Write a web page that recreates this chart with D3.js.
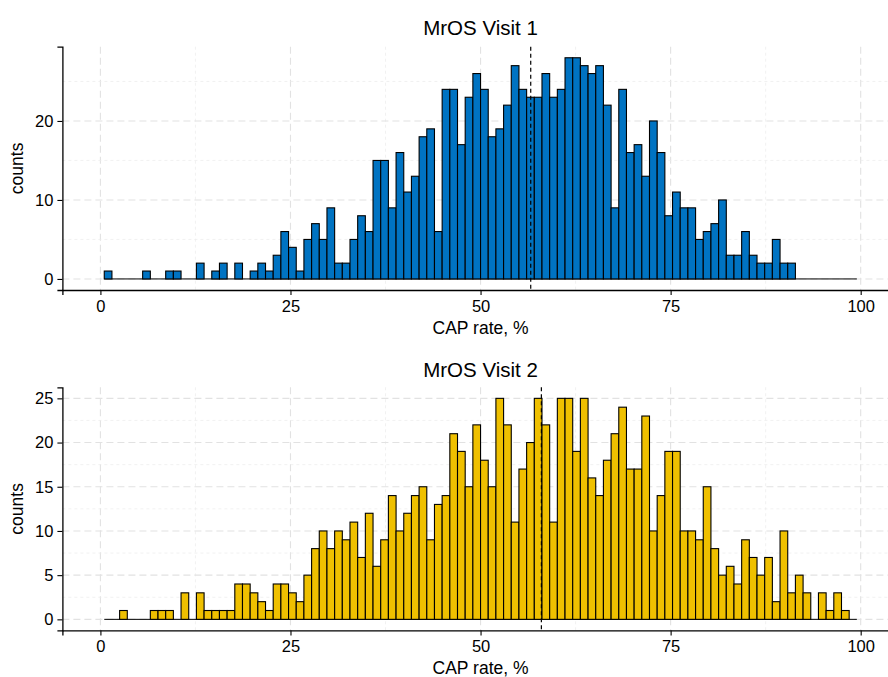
<!DOCTYPE html>
<html><head><meta charset="utf-8">
<script src="https://cdn.jsdelivr.net/npm/d3@7"></script>
<style>
body{margin:0;background:#fff}
text{font-family:"Liberation Sans",Arial,Helvetica,sans-serif;fill:#000}
</style>
</head><body>
<svg id="chart" width="888" height="677"></svg>
<script>
// ---- data ----
const binWidth = 100 / 99;          // histogram bin width (CAP rate %)
const binIndex = d3.range(1, 99);   // 98 bins, centre = j * binWidth
const countsVisit1 = [
  1,0,0,0,0,1,0,0,1,1, 0,0,2,0,1,2,0,2,0,1,
  2,1,3,6,4,1,5,7,5,9, 2,2,5,8,6,15,15,9,16,11,
  13,18,19,6,24,24,17,23,26,24, 18,19,22,27,24,23,23,26,23,24,
  28,28,27,26,27,22,9,24,16,17, 13,20,16,8,11,9,9,5,6,7,
  10,3,3,6,3,2,2,5,2,2, 0,0,0,0,0,0,0,0
];
const countsVisit2 = [
  0,0,1,0,0,0,1,1,1,0, 3,0,3,1,1,1,1,4,4,3,
  2,1,4,4,3,2,5,8,10,8, 10,9,11,7,12,6,9,14,10,12,
  14,15,9,13,14,21,19,15,22,18, 15,25,22,11,17,20,25,22,11,25,
  25,19,25,16,14,18,21,24,17,17, 23,10,14,19,19,10,10,9,15,8,
  5,6,4,9,7,5,7,2,10,3, 5,3,0,3,1,3,1,0
];
const meanValues = [56.6, 58.0];
const panelTitles = ["MrOS Visit 1", "MrOS Visit 2"];
const panelColors = ["#0073C2", "#EFC000"];
const xTicks = [0, 25, 50, 75, 100];
const xMinorTicks = [12.5, 37.5, 62.5, 87.5];
const yTicks1 = [0, 10, 20];
const yMinor1 = [5, 15, 25];
const yTicks2 = [0, 5, 10, 15, 20, 25];
const yMinor2 = [2.5, 7.5, 12.5, 17.5, 22.5];
const xLabel = "CAP rate, %";
const yLabel = "counts";

// ---- layout ----
const svg = d3.select("#chart");
const panels = [
  {counts: countsVisit1, mean: meanValues[0], title: panelTitles[0], color: panelColors[0],
   yTicks: yTicks1, yMinor: yMinor1, top: 46.7, bottom: 290, yDom: [-1.4, 29.4], titleY: 35},
  {counts: countsVisit2, mean: meanValues[1], title: panelTitles[1], color: panelColors[1],
   yTicks: yTicks2, yMinor: yMinor2, top: 387.3, bottom: 630.4, yDom: [-1.25, 26.25], titleY: 377}
];
const x = d3.scaleLinear().domain([-5, 105]).range([62.4, 898.7]);
const fontTick = 16.5, fontAxis = 17.5, fontTitle = 20.5;

panels.forEach(p => {
  const y = d3.scaleLinear().domain(p.yDom).range([p.bottom, p.top]);
  const g = svg.append("g");
  const [xl, xr] = x.range();

  // grid
  const grid = g.append("g");
  grid.selectAll(".vmaj").data(xTicks).join("line")
    .attr("x1", d => x(d)).attr("x2", d => x(d)).attr("y1", p.top).attr("y2", p.bottom)
    .attr("stroke", "#e2e2e2").attr("stroke-width", 1.1).attr("stroke-dasharray", "7,4");
  grid.selectAll(".vmin").data(xMinorTicks).join("line")
    .attr("x1", d => x(d)).attr("x2", d => x(d)).attr("y1", p.top).attr("y2", p.bottom)
    .attr("stroke", "#ebebeb").attr("stroke-width", 0.7).attr("stroke-dasharray", "3,3");
  grid.selectAll(".hmaj").data(p.yTicks).join("line")
    .attr("x1", xl).attr("x2", xr).attr("y1", d => y(d)).attr("y2", d => y(d))
    .attr("stroke", "#e2e2e2").attr("stroke-width", 1.1).attr("stroke-dasharray", "7,4");
  grid.selectAll(".hmin").data(p.yMinor).join("line")
    .attr("x1", xl).attr("x2", xr).attr("y1", d => y(d)).attr("y2", d => y(d))
    .attr("stroke", "#ebebeb").attr("stroke-width", 0.7).attr("stroke-dasharray", "3,3");

  // zero baseline (empty bins)
  g.append("line")
    .attr("x1", x((binIndex[0] - 0.5) * binWidth))
    .attr("x2", x((binIndex[binIndex.length - 1] + 0.5) * binWidth))
    .attr("y1", y(0)).attr("y2", y(0))
    .attr("stroke", "#000").attr("stroke-width", 1);

  // bars
  const bins = binIndex.map((j, i) => ({x0: (j - 0.5) * binWidth, x1: (j + 0.5) * binWidth, c: p.counts[i]}));
  g.append("g").selectAll("rect").data(bins.filter(b => b.c > 0)).join("rect")
    .attr("x", b => x(b.x0)).attr("width", b => x(b.x1) - x(b.x0))
    .attr("y", b => y(b.c)).attr("height", b => y(0) - y(b.c))
    .attr("fill", p.color).attr("stroke", "#000").attr("stroke-width", 1.1);

  // mean line
  g.append("line")
    .attr("x1", x(p.mean)).attr("x2", x(p.mean)).attr("y1", p.top).attr("y2", p.bottom)
    .attr("stroke", "#000").attr("stroke-width", 1.2).attr("stroke-dasharray", "4,3");

  // axes
  const xAxis = g.append("g").attr("transform", `translate(0,${p.bottom})`)
    .call(d3.axisBottom(x).tickValues(xTicks).tickSizeOuter(0).tickSize(5).tickPadding(5));
  const yAxis = g.append("g").attr("transform", `translate(${xl},0)`)
    .call(d3.axisLeft(y).tickValues(p.yTicks).tickSizeOuter(0).tickSize(5).tickPadding(4));
  [xAxis, yAxis].forEach(a => {
    a.select(".domain").attr("stroke", "#000").attr("stroke-width", 1.3);
    a.selectAll(".tick line").attr("stroke", "#000").attr("stroke-width", 1.1);
    a.selectAll(".tick text").attr("font-size", fontTick).attr("fill", "#000")
      .style("font-family", '"Liberation Sans", Arial, sans-serif');
  });

  // titles
  g.append("text").attr("x", (xl + xr) / 2).attr("y", p.titleY)
    .attr("text-anchor", "middle").attr("font-size", fontTitle).text(p.title);
  g.append("text").attr("x", (xl + xr) / 2).attr("y", p.bottom + 44)
    .attr("text-anchor", "middle").attr("font-size", fontAxis).text(xLabel);
  g.append("text").attr("transform", `translate(23,${(p.top + p.bottom) / 2}) rotate(-90)`)
    .attr("text-anchor", "middle").attr("font-size", fontAxis).text(yLabel);
});
</script>
</body></html>
